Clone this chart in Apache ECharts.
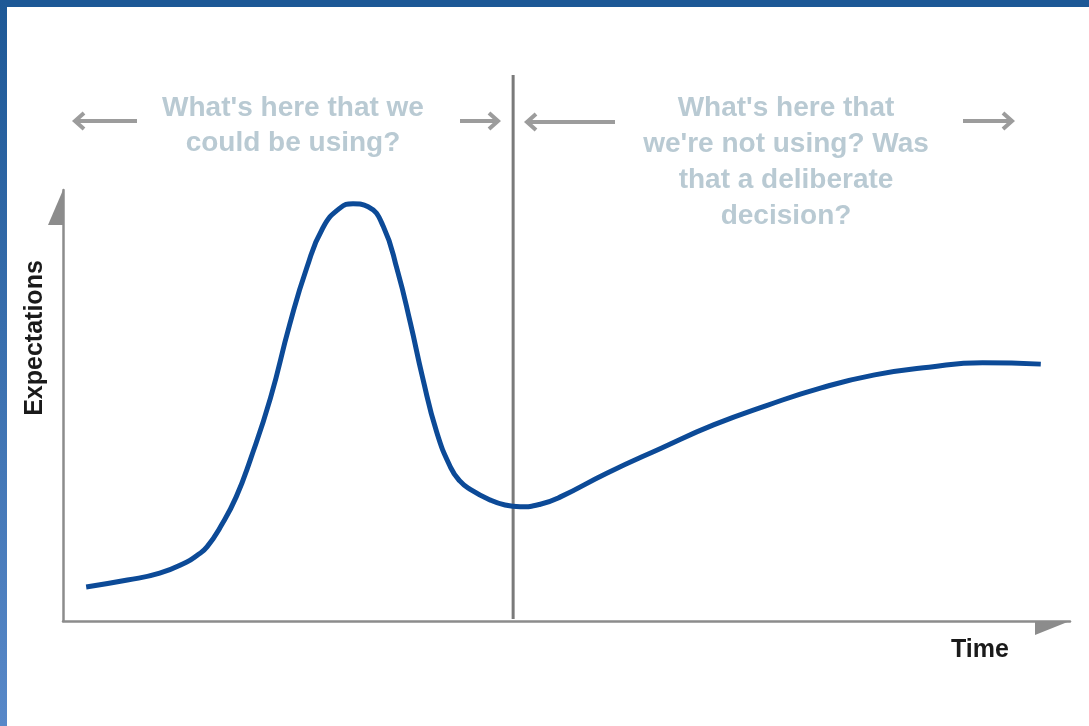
<!DOCTYPE html>
<html>
<head>
<meta charset="utf-8">
<title>Hype curve</title>
<script src="https://cdn.jsdelivr.net/npm/echarts@6/dist/echarts.min.js"></script>
<style>
  html, body { margin: 0; padding: 0; background: #ffffff; }
  #chart { width: 1089px; height: 726px; }
</style>
</head>
<body>
<div id="chart"></div>
<script>
// curve (time 0..100, expectations 0..100)
const time = [2.3, 6.4, 9.6, 12.3, 13.3, 14.3, 15.8, 17.2, 18.6, 20.6, 22.5, 24.2, 25.8, 27.5, 28.8, 30.3, 31.8, 33.2, 34.5, 35.7, 37.1, 38.5, 39.4, 40.4, 42.4, 43.9, 45.4, 47.4, 49.4, 54.0, 59.4, 64.6, 70.0, 75.3, 80.6, 86.0, 91.3, 97.1]
const expectations = [7.9, 9.5, 11.1, 13.7, 15.2, 17.2, 22.5, 28.8, 37.4, 51.7, 68.7, 81.9, 91.2, 95.8, 96.8, 96.1, 91.6, 81.4, 69.1, 56.6, 43.9, 35.6, 32.5, 30.6, 28.1, 26.9, 26.5, 27.1, 28.8, 34.3, 40.1, 45.5, 50.1, 54.1, 57.1, 58.9, 59.9, 59.6]
const dividerTime = 44.7
const leftNote = ["What's here that we", 'could be using?']
const rightNote = ["What's here that", "we're not using? Was", 'that a deliberate', 'decision?']
const yName = 'Expectations'
const xName = 'Time'

const axisGray = '#8c8c8c'
const noteColor = '#b9cad3'
const arrowGray = '#9c9c9c'

const chart = echarts.init(document.getElementById('chart'))

const curvePoints = time.map((t, i) => [t, expectations[i]])

const option = {
  animation: false,
  backgroundColor: '#ffffff',
  grid: { left: 63, right: 19, top: 190, bottom: 105 },
  xAxis: {
    type: 'value',
    min: 0,
    max: 100,
    axisLine: {
      show: true,
      symbol: ['none', 'path://M0,0L0,35L14,35Z M-14,35L-14,35'],
      symbolSize: [28, 35],
      symbolOffset: [0, -17.5],
      lineStyle: { color: axisGray, width: 2.5 }
    },
    axisTick: { show: false },
    axisLabel: { show: false },
    splitLine: { show: false }
  },
  yAxis: {
    type: 'value',
    min: 0,
    max: 100,
    axisLine: {
      show: true,
      symbol: ['none', 'path://M0,0L0,35L-15,35Z M15,35L15,35'],
      symbolSize: [30, 35],
      symbolOffset: [0, -17.5],
      lineStyle: { color: axisGray, width: 2.5 }
    },
    axisTick: { show: false },
    axisLabel: { show: false },
    splitLine: { show: false }
  },
  series: [
    {
      type: 'line',
      data: curvePoints,
      smooth: 0.5,
      symbol: 'none',
      lineStyle: { color: '#0c4a97', width: 5 }
    }
  ]
}
chart.setOption(option)

// decorations: frame, divider, notes, arrows
function arrow(tipX, tailX, y) {
  const dir = tipX > tailX ? 1 : -1
  return [
    { type: 'line', shape: { x1: tailX, y1: y, x2: tipX - dir * 2, y2: y }, style: { stroke: arrowGray, lineWidth: 4 } },
    { type: 'polyline', shape: { points: [[tipX - dir * 9, y - 8], [tipX, y], [tipX - dir * 9, y + 8]] }, style: { stroke: arrowGray, lineWidth: 4, fill: null } }
  ]
}

const dividerBase = chart.convertToPixel({ xAxisIndex: 0, yAxisIndex: 0 }, [dividerTime, 0])

const graphics = [
  { type: 'rect', shape: { x: 0, y: 0, width: 1089, height: 7 }, style: { fill: '#1d5896' }, z: 100 },
  {
    type: 'rect', shape: { x: 0, y: 0, width: 7, height: 726 }, z: 100,
    style: { fill: new echarts.graphic.LinearGradient(0, 0, 0, 1, [{ offset: 0, color: '#1d5896' }, { offset: 1, color: '#5888c8' }]) }
  },
  { type: 'line', shape: { x1: dividerBase[0], y1: 75, x2: dividerBase[0], y2: dividerBase[1] - 2 }, style: { stroke: '#7a7a7a', lineWidth: 3 }, z: 1 },
  {
    type: 'text', x: 293, y: 125.5,
    style: { text: leftNote.join('\n'), align: 'center', verticalAlign: 'middle', lineHeight: 35, fill: noteColor, font: 'bold 28px "Liberation Sans", Arial, sans-serif' }
  },
  {
    type: 'text', x: 786, y: 162,
    style: { text: rightNote.join('\n'), align: 'center', verticalAlign: 'middle', lineHeight: 36, fill: noteColor, font: 'bold 28px "Liberation Sans", Arial, sans-serif' }
  },
  {
    type: 'text', x: 35, y: 338, rotation: Math.PI / 2,
    style: { text: yName, align: 'center', verticalAlign: 'middle', fill: '#1a1a1a', font: 'bold 25px "Liberation Sans", Arial, sans-serif' }
  },
  {
    type: 'text', x: 980, y: 650,
    style: { text: xName, align: 'center', verticalAlign: 'middle', fill: '#1a1a1a', font: 'bold 25px "Liberation Sans", Arial, sans-serif' }
  }
]
  .concat(arrow(75, 137, 121))
  .concat(arrow(498, 460, 121))
  .concat(arrow(527, 615, 122))
  .concat(arrow(1012, 963, 121))

chart.setOption({ graphic: graphics })
</script>
</body>
</html>
